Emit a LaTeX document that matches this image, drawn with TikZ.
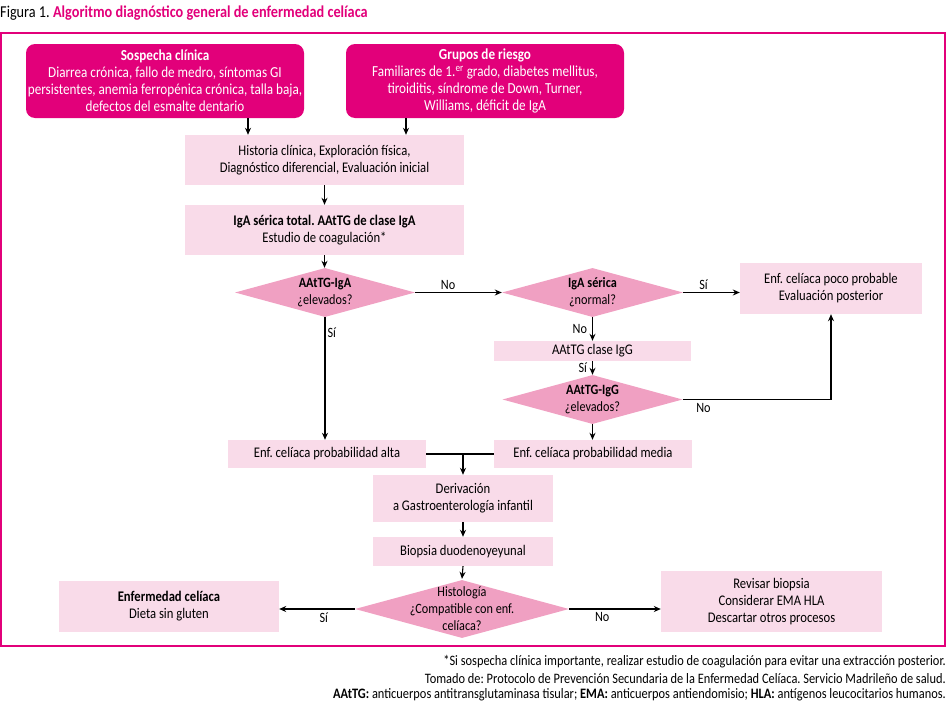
\documentclass[tikz,border=0pt]{standalone}
\usepackage{fontspec}
\setmainfont{Carlito}[FakeStretch=0.86]
\frenchspacing
\usetikzlibrary{shapes.geometric,arrows.meta}
\definecolor{celmag}{RGB}{226,0,122}
\definecolor{celpale}{RGB}{249,219,233}
\definecolor{celrose}{RGB}{240,160,194}
\tikzset{
  riskbox/.style={draw=none, fill=celmag, rounded corners=9pt, text=white, align=center,
    font=\fontsize{15.3}{17}\selectfont, inner sep=0pt},
  procbox/.style={draw=none, fill=celpale, align=center, font=\fontsize{14.7}{17}\selectfont, inner sep=0pt},
  decision/.style={diamond, draw=none, fill=celrose, inner sep=0pt},
  dectext/.style={align=center, font=\fontsize{14.2}{17}\selectfont, inner sep=0pt},
  lbl/.style={font=\fontsize{14.2}{17}\selectfont, inner sep=2pt},
  arr/.style={line width=1.1pt, -{Stealth[length=7pt,width=6pt]}},
  ln/.style={line width=1.1pt}
}
\begin{document}
\begin{tikzpicture}[x=1pt,y=-1pt]
            \useasboundingbox (0,0) rectangle (948,712);
            
            % Title of the figure
            \node [anchor=west, inner sep=0pt, font=\fontsize{16.6}{18}\selectfont] (title) at (0,13)
              {Figura 1. \textcolor{celmag}{\bfseries Algoritmo diagnóstico general de enfermedad celíaca}};%
            
            % Drawing outer frame
            \draw [celmag, line width=1.3pt] (1,33) rectangle (945,646);%
            
            % Drawing boxes of suspicion and risk groups
            \node [riskbox, minimum width=278pt, minimum height=74pt] (sospecha) at (165,81)
              {\textbf{Sospecha clínica}\\Diarrea crónica, fallo de medro, síntomas GI\\persistentes, anemia ferropénica crónica, talla baja,\\defectos del esmalte dentario};%
            \node [riskbox, minimum width=278pt, minimum height=74pt] (grupos) at (485,81)
              {\textbf{Grupos de riesgo}\\Familiares de 1.\textsuperscript{er} grado, diabetes mellitus,\\tiroiditis, síndrome de Down, Turner,\\Williams, déficit de IgA};%
            
            % Drawing first steps
            \node [procbox, minimum width=279pt, minimum height=50pt] (historia) at (324.5,160)
              {Historia clínica, Exploración física,\\Diagnóstico diferencial, Evaluación inicial};%
            \node [procbox, minimum width=279pt, minimum height=50pt] (igatotal) at (324.5,230)
              {\textbf{IgA sérica total. AAtTG de clase IgA}\\Estudio de coagulación*};%
            
            % Marking decisions
            \node [decision, minimum width=180pt, minimum height=49pt,
              label={[dectext]center:{\textbf{AAtTG-IgA}\\¿elevados?}}] (dgA) at (325,292.5) {};%
            \node [decision, minimum width=181pt, minimum height=49pt,
              label={[dectext]center:{\textbf{IgA sérica}\\¿normal?}}] (dserica) at (592.5,292.5) {};%
            \node [decision, minimum width=180pt, minimum height=49pt,
              label={[dectext]center:{\textbf{AAtTG-IgG}\\¿elevados?}}] (dgG) at (592.5,399.5) {};%
            \node [decision, minimum width=214pt, minimum height=58pt,
              label={[dectext]center:{Histología\\¿Compatible con enf.\\celíaca?}}] (dhisto) at (462,609) {};%
            
            % Drawing result boxes
            \node [procbox, minimum width=182pt, minimum height=51pt] (poco) at (831,288.5)
              {Enf. celíaca poco probable\\Evaluación posterior};%
            \node [procbox, minimum width=197pt, minimum height=20pt] (igg) at (592.5,351)
              {AAtTG clase IgG};%
            \node [procbox, minimum width=198pt, minimum height=28pt] (alta) at (327,454)
              {Enf. celíaca probabilidad alta};%
            \node [procbox, minimum width=198pt, minimum height=28pt] (media) at (593,454)
              {Enf. celíaca probabilidad media};%
            \node [procbox, minimum width=180pt, minimum height=47pt] (deriv) at (463,498.5)
              {Derivación\\a Gastroenterología infantil};%
            \node [procbox, minimum width=180pt, minimum height=29pt] (biopsia) at (463,551.5)
              {Biopsia duodenoyeyunal};%
            \node [procbox, minimum width=220pt, minimum height=51pt] (celiaca) at (169,606.5)
              {\textbf{Enfermedad celíaca}\\Dieta sin gluten};%
            \node [procbox, minimum width=221pt, minimum height=61pt] (revisar) at (771.5,601.5)
              {Revisar biopsia\\Considerar EMA HLA\\Descartar otros procesos};%
            
            % Drawing arrows
            \draw [arr] ([xshift=83pt]sospecha.south) -- ([xshift=83pt]sospecha.south |- historia.north);%
            \draw [arr] ([xshift=-79pt]grupos.south) -- ([xshift=-79pt]grupos.south |- historia.north);%
            \draw [arr] (historia.south) -- (igatotal.north);%
            \draw [arr] (igatotal.south) -- (igatotal.south |- dgA.north);%
            \draw [arr] (dgA.east) -- node [lbl, above, pos=0.38] (noA) {No} (dserica.west);%
            \draw [arr] (dserica.east) -- node [lbl, above, pos=0.36] (siS) {Sí} (dserica.east -| poco.west);%
            \draw [arr] (dserica.south) -- node [lbl, left, xshift=-3pt] (noS) {No} (igg.north);%
            \draw [arr] (igg.south) -- node [lbl, left, xshift=-3pt] (siG) {Sí} (dgG.north);%
            \draw [arr] (dgG.east) -- node [lbl, below, pos=0.14, yshift=-1pt] (noG) {No} (dgG.east -| poco.south) -- (poco.south);%
            \draw [arr] (dgG.south) -- (dgG.south |- media.north);%
            \draw [arr] (dgA.south) -- node [lbl, right, pos=0.13] (siA) {Sí} (dgA.south |- alta.north);%
            
            % Joining both probabilities
            \draw [ln] (alta.east) -- (media.west);%
            \draw [arr] (deriv.north |- alta.east) -- (deriv.north);%
            \draw [arr] (deriv.south) -- (biopsia.north);%
            \draw [arr] (biopsia.south) -- ([yshift=1pt]dhisto.north);%
            \draw [arr] (dhisto.west) -- node [lbl, below, pos=0.41, yshift=-1pt] (siH) {Sí} (dhisto.west -| celiaca.east);%
            \draw [arr] (dhisto.east) -- node [lbl, below, pos=0.36, yshift=-1pt] (noH) {No} (dhisto.east -| revisar.west);%
            
            % Footnotes
            {\fontsize{14.4}{16}\selectfont
            \node [anchor=east, inner sep=0pt] (nota1) at (946,662)
              {*Si sospecha clínica importante, realizar estudio de coagulación para evitar una extracción posterior.};%
            \node [anchor=east, inner sep=0pt] (nota2) at (946,678.5)
              {Tomado de: Protocolo de Prevención Secundaria de la Enfermedad Celíaca. Servicio Madrileño de salud.};%
            \node [anchor=east, inner sep=0pt] (nota3) at (946,695)
              {\textbf{AAtTG:} anticuerpos antitransglutaminasa tisular; \textbf{EMA:} anticuerpos antiendomisio; \textbf{HLA:} antígenos leucocitarios humanos.};%
            }
\end{tikzpicture}
\end{document}
